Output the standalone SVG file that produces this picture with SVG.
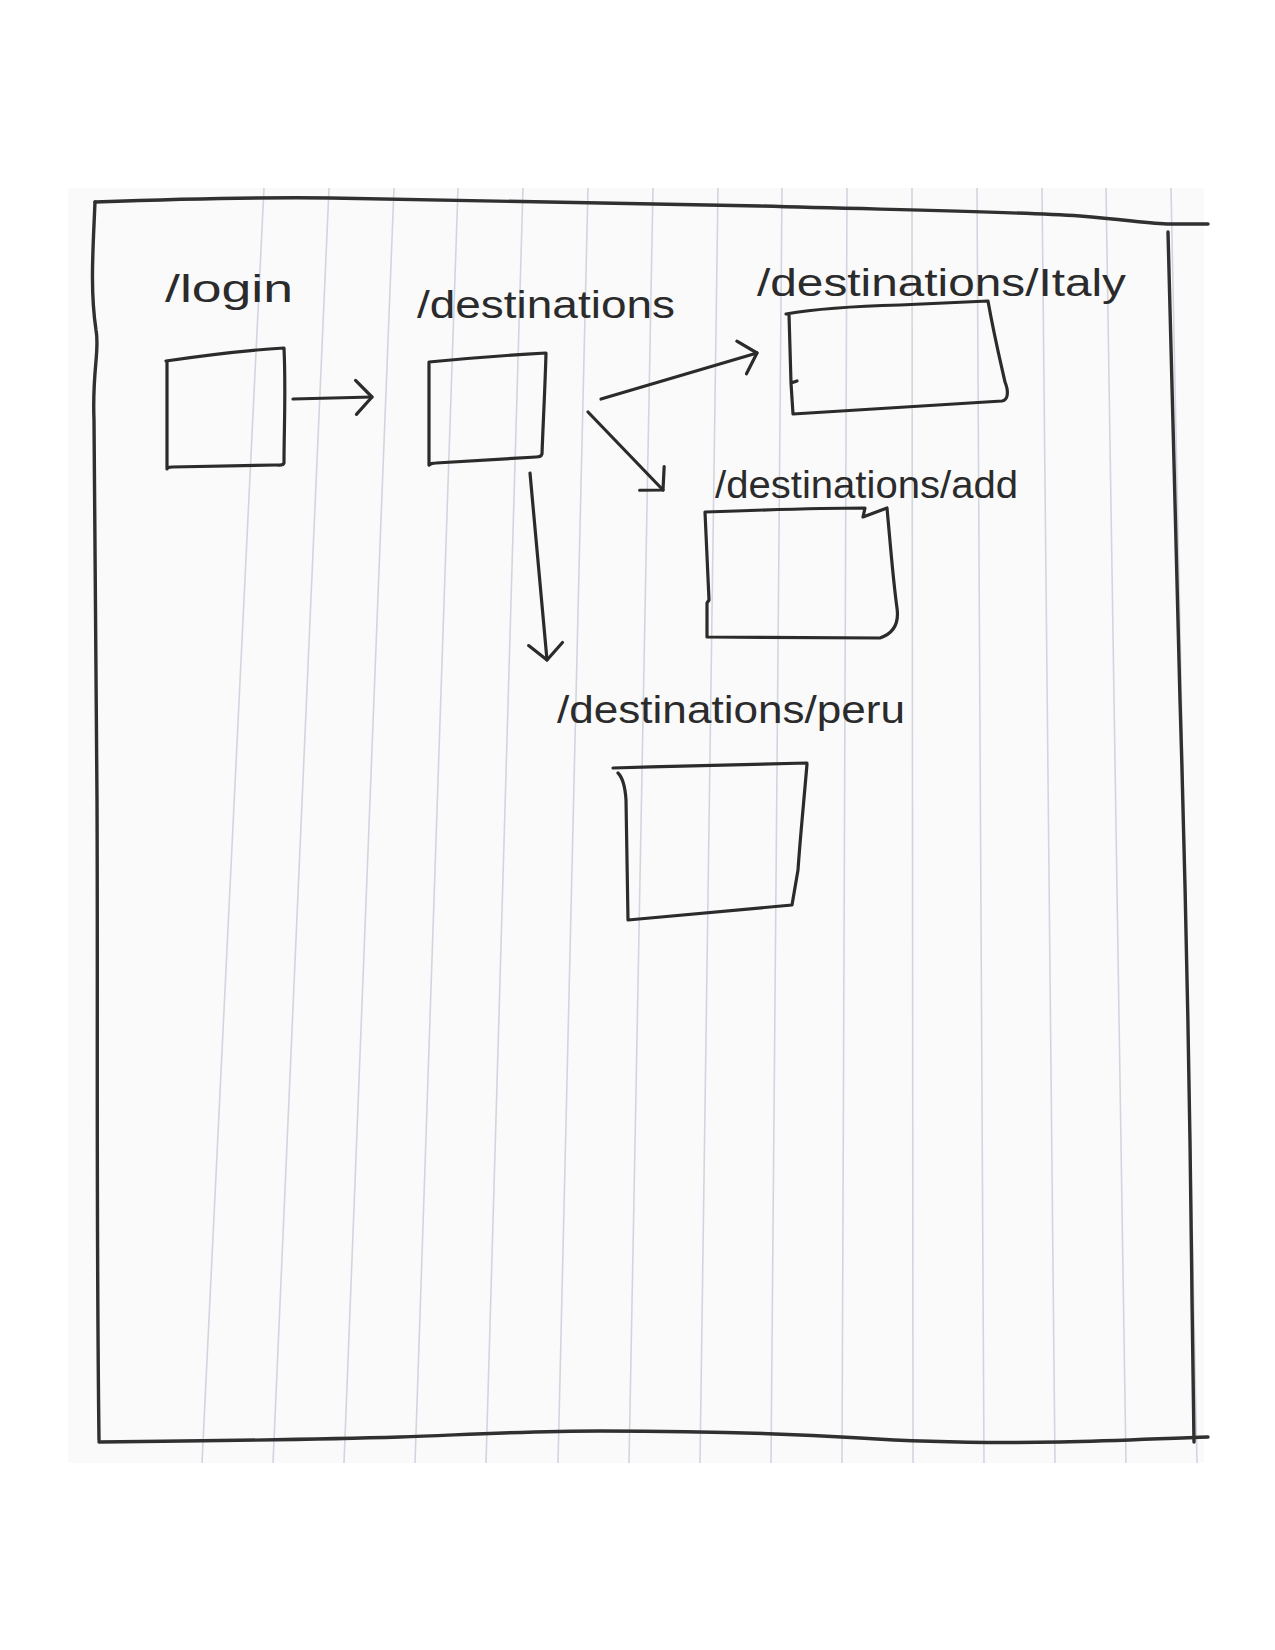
<svg xmlns="http://www.w3.org/2000/svg" width="1275" height="1650" viewBox="0 0 1275 1650">
<defs>
<style>
.ink{fill:none;stroke:#2b2b2b;stroke-width:3.2;stroke-linecap:round;stroke-linejoin:round}
.frame{fill:none;stroke:#303030;stroke-width:3.4;stroke-linecap:round;stroke-linejoin:round}
.rule{stroke:#d2d5df;stroke-width:1.6}
.lbl{font-family:"Liberation Sans",Arial,sans-serif;font-size:38px;fill:#2b2b2b}
</style>
<marker id="head" viewBox="-20 -20 24 40" refX="0" refY="0" markerWidth="24" markerHeight="40" markerUnits="userSpaceOnUse" orient="auto">
<path d="M-16,-17 L0,0 L-16,17" fill="none" stroke="#2b2b2b" stroke-width="3.2" stroke-linecap="round" stroke-linejoin="round"/>
</marker>
</defs>
<rect width="1275" height="1650" fill="#ffffff"/>
<rect x="68" y="188" width="1136" height="1275" fill="#fafafb"/>
<g id="rules">
<line class="rule" x1="264" y1="188" x2="202" y2="1463"/>
<line class="rule" x1="329" y1="188" x2="273" y2="1463"/>
<line class="rule" x1="394" y1="188" x2="344" y2="1463"/>
<line class="rule" x1="458" y1="188" x2="415" y2="1463"/>
<line class="rule" x1="523" y1="188" x2="486" y2="1463"/>
<line class="rule" x1="588" y1="188" x2="558" y2="1463"/>
<line class="rule" x1="653" y1="188" x2="629" y2="1463"/>
<line class="rule" x1="718" y1="188" x2="700" y2="1463"/>
<line class="rule" x1="782" y1="188" x2="771" y2="1463"/>
<line class="rule" x1="847" y1="188" x2="842" y2="1463"/>
<line class="rule" x1="912" y1="188" x2="913" y2="1463"/>
<line class="rule" x1="977" y1="188" x2="984" y2="1463"/>
<line class="rule" x1="1042" y1="188" x2="1055" y2="1463"/>
<line class="rule" x1="1106" y1="188" x2="1126" y2="1463"/>
<line class="rule" x1="1171" y1="188" x2="1197" y2="1463"/>
</g>
<g id="frame">
<path class="frame" d="M95,202 C180,199 250,197 330,198 C500,200 650,203 760,206 C900,210 1000,211 1080,216 C1130,220 1150,224 1170,224 L1208,224"/>
<path class="frame" d="M1168,232 C1172,400 1176,520 1180,700 C1186,900 1190,1100 1192,1300 L1194,1442"/>
<path class="frame" d="M99,1442 C200,1441 300,1440 400,1437 C480,1434 530,1431 600,1431 C700,1431 780,1433 860,1438 C920,1442 1000,1443 1060,1442 C1120,1441 1170,1438 1208,1437"/>
<path class="frame" d="M95,202 C93,250 90,290 96,330 C100,350 92,370 94,420 L97,800 C98,1000 96,1200 99,1440"/>
</g>
<g id="node-login">
<path class="ink" d="M166,361 C200,356 250,350 284,348 C286,390 284,430 284,463 C283,466 280,465 276,465 L172,467 C169,467 167,468 167,469 L167,361"/>
<text class="lbl" x="165" y="302" textLength="128" lengthAdjust="spacingAndGlyphs">/login</text>
</g>
<g id="node-destinations">
<path class="ink" d="M429,362 C470,358 510,355 546,353 C545,390 543,425 542,454 C541,457 539,457 536,457 L436,463 C432,463 430,464 429,465 L429,362"/>
<text class="lbl" x="417" y="318" textLength="258" lengthAdjust="spacingAndGlyphs">/destinations</text>
</g>
<g id="node-italy">
<path class="ink" d="M786,314 C820,308 860,306 900,305 L988,301 C994,335 1000,360 1005,382 C1009,392 1008,400 1002,401 L793,414 L791,383 M791,383 L797,381 M791,383 L789,314"/>
<text class="lbl" x="757" y="296" textLength="369" lengthAdjust="spacingAndGlyphs">/destinations/Italy</text>
</g>
<g id="node-add">
<path class="ink" d="M705,512 C760,510 820,508 865,508 L863,517 L887,508 C890,540 893,580 897,608 C899,622 895,633 880,638 L707,637 L707,603 L709,600 L705,512"/>
<text class="lbl" x="715" y="498" textLength="303" lengthAdjust="spacingAndGlyphs">/destinations/add</text>
</g>
<g id="node-peru">
<path class="ink" d="M613,768 C680,766 750,764 807,763 M618,773 C622,777 625,784 626,800 L628,920 L792,905 M807,764 C804,800 800,840 798,870 L792,905"/>
<text class="lbl" x="557" y="723" textLength="348" lengthAdjust="spacingAndGlyphs">/destinations/peru</text>
</g>
<g id="connectors">
<path class="ink" d="M293,399 L372,397" marker-end="url(#head)"/>
<path class="ink" d="M601,399 L757,353" marker-end="url(#head)"/>
<path class="ink" d="M588,412 L663,490" marker-end="url(#head)"/>
<path class="ink" d="M530,473 L547,660" marker-end="url(#head)"/>
</g>
</svg>
